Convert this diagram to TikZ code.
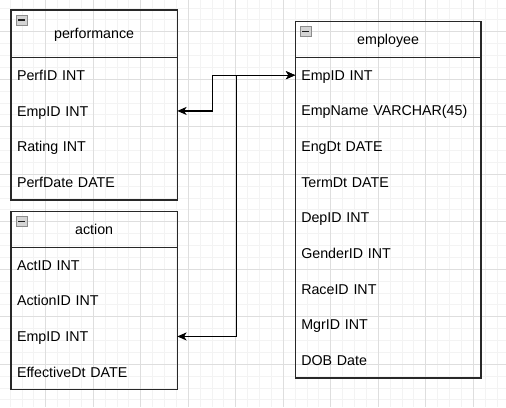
\documentclass[tikz,border=0pt]{standalone}
\usepackage{fontspec}
\setmainfont{Liberation Sans}
\usetikzlibrary{arrows.meta}
\definecolor{gridminor}{RGB}{243,243,243}
\definecolor{gridmajor}{RGB}{222,222,222}
\definecolor{boxstroke}{RGB}{40,40,40}
\definecolor{iconfill}{RGB}{212,212,212}
\definecolor{iconstroke}{RGB}{140,140,140}
\definecolor{iconbarcol}{RGB}{30,30,30}
\tikzset{
  txtfont/.style={font=\fontsize{10.69pt}{12.8pt}\selectfont},
  boxline/.style={draw=boxstroke, line width=0.9pt},
  hdr/.style={boxline, txtfont, anchor=north west, inner sep=0pt, outer sep=0pt,
    text height=7.65pt, text depth=0pt},
  perfhdr/.style={hdr, minimum width=124.69pt, minimum height=35.625pt},
  acthdr/.style={hdr, minimum width=124.69pt, minimum height=26.72pt},
  emphdr/.style={hdr, minimum width=139.31pt, minimum height=26.72pt},
  rowbox/.style={txtfont, anchor=north west, inner xsep=4.5pt, inner ysep=0pt, outer sep=0pt,
    minimum height=26.72pt, text height=7.65pt, text depth=0pt, align=left},
  leftrow/.style={rowbox, text width=115.69pt},
  emprow/.style={rowbox, text width=130.31pt},
  icon/.style={anchor=north west, draw=iconstroke, fill=iconfill, line width=0.6pt,
    minimum width=8.25pt, minimum height=7.5pt, inner sep=0pt, outer sep=0pt},
  iconbar/.style={draw=iconbarcol, line width=1pt},
  conn/.style={draw=black, line width=0.9pt,
    {Stealth[length=7pt, width=6pt, inset=1.9pt]}-{Stealth[length=7pt, width=6pt, inset=1.9pt]}}
}
\begin{document}
\begin{tikzpicture}[x=0.75pt, y=-0.75pt]
\useasboundingbox (0,0) rectangle (506,407);
% background grid
\begin{scope}
  \clip (0,0) rectangle (506,407);
  \fill[white] (0,0) rectangle (506,407);
  \foreach \j in {0,...,43} {
    \pgfmathsetmacro\gx{-1.7+11.875*\j}
    \draw[gridminor, line width=0.75pt] (\gx,0) -- (\gx,407);
  }
  \foreach \j in {0,...,36} {
    \pgfmathsetmacro\gy{-15.7+11.875*\j}
    \draw[gridminor, line width=0.75pt] (0,\gy) -- (506,\gy);
  }
  \foreach \j in {0,4,...,40} {
    \pgfmathsetmacro\gx{-1.7+11.875*\j}
    \draw[gridmajor, line width=0.75pt] (\gx,0) -- (\gx,407);
  }
  \foreach \j in {0,4,...,36} {
    \pgfmathsetmacro\gy{-15.7+11.875*\j}
    \draw[gridmajor, line width=0.75pt] (0,\gy) -- (506,\gy);
  }
\end{scope}

% performance
\node[perfhdr] (perf) at (11,10) {performance};
\node[leftrow] (p1) at (perf.south west) {PerfID INT};
\node[leftrow] (p2) at (p1.south west) {EmpID INT};
\node[leftrow] (p3) at (p2.south west) {Rating INT};
\node[leftrow] (p4) at (p3.south west) {PerfDate DATE};
\draw[boxline] (perf.south west) rectangle (p4.south east);
\node[icon] (perficon) at ([shift={(5,5)}]perf.north west) {};
\draw[iconbar] ([xshift=1.6pt]perficon.west) -- ([xshift=-1.6pt]perficon.east);

% action
\node[acthdr] (act) at (11,211.75) {action};
\node[leftrow] (a1) at (act.south west) {ActID INT};
\node[leftrow] (a2) at (a1.south west) {ActionID INT};
\node[leftrow] (a3) at (a2.south west) {EmpID INT};
\node[leftrow] (a4) at (a3.south west) {EffectiveDt DATE};
\draw[boxline] (act.south west) rectangle (a4.south east);
\node[icon] (acticon) at ([shift={(5,5)}]act.north west) {};
\draw[iconbar] ([xshift=1.6pt]acticon.west) -- ([xshift=-1.6pt]acticon.east);

% employee
\node[emphdr] (emp) at (295.25,21.75) {employee};
\node[emprow] (e1) at (emp.south west) {EmpID INT};
\node[emprow] (e2) at (e1.south west) {EmpName VARCHAR(45)};
\node[emprow] (e3) at (e2.south west) {EngDt DATE};
\node[emprow] (e4) at (e3.south west) {TermDt DATE};
\node[emprow] (e5) at (e4.south west) {DepID INT};
\node[emprow] (e6) at (e5.south west) {GenderID INT};
\node[emprow] (e7) at (e6.south west) {RaceID INT};
\node[emprow] (e8) at (e7.south west) {MgrID INT};
\node[emprow] (e9) at (e8.south west) {DOB Date};
\draw[boxline] (emp.south west) rectangle (e9.south east);
\node[icon] (empicon) at ([shift={(5,5)}]emp.north west) {};
\draw[iconbar] ([xshift=1.6pt]empicon.west) -- ([xshift=-1.6pt]empicon.east);

% connectors
\draw[conn] (p2.east) -- ++(35,0) |- (e1.west);
\draw[conn] (a3.east) -- ++(59,0) |- (e1.west);
\end{tikzpicture}
\end{document}
